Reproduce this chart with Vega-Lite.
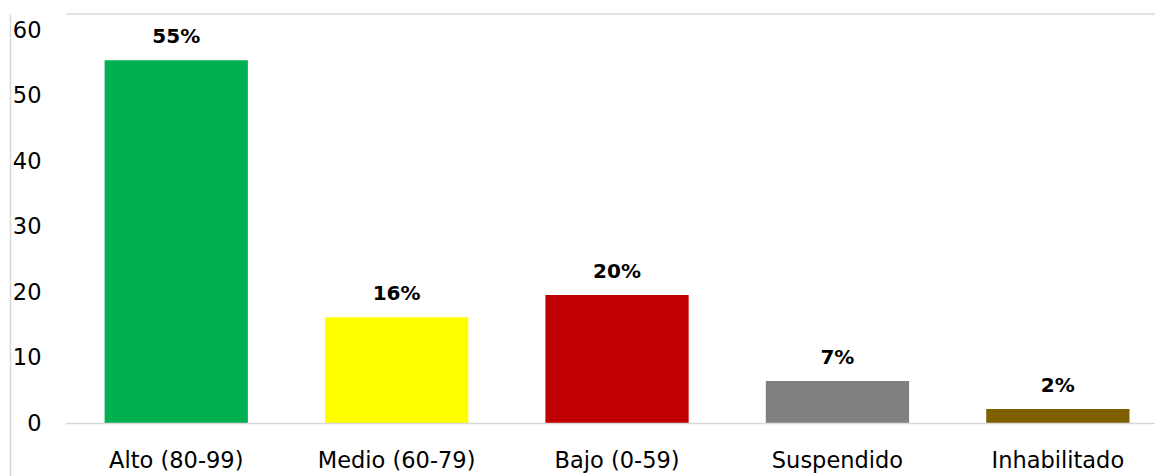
{
  "$schema": "https://vega.github.io/schema/vega-lite/v6.json",
  "autosize": "none",
  "width": 1089,
  "height": 462,
  "padding": {"left": 66, "top": 14, "right": 0, "bottom": 0},
  "background": "white",
  "config": {
    "view": {"stroke": null},
    "font": "DejaVu Sans",
    "axis": {"labelFont": "DejaVu Sans", "labelFontSize": 22.5, "labelColor": "#000000", "grid": false, "ticks": false, "title": null}
  },
  "data": {
    "values": [
      {"categoria": "Alto (80-99)", "valor": 55.4, "etiqueta": "55%", "color": "#00B050"},
      {"categoria": "Medio (60-79)", "valor": 16.2, "etiqueta": "16%", "color": "#FFFF00"},
      {"categoria": "Bajo (0-59)", "valor": 19.6, "etiqueta": "20%", "color": "#C00000"},
      {"categoria": "Suspendido", "valor": 6.5, "etiqueta": "7%", "color": "#808080"},
      {"categoria": "Inhabilitado", "valor": 2.2, "etiqueta": "2%", "color": "#7F6000"}
    ]
  },
  "encoding": {
    "x": {
      "field": "categoria",
      "type": "nominal",
      "sort": null,
      "scale": {"paddingInner": 0.35, "paddingOuter": 0.1455, "align": 0.602},
      "axis": {"orient": "bottom", "domain": false, "labelAngle": 0, "labelPadding": -27}
    },
    "y": {
      "field": "valor",
      "type": "quantitative",
      "scale": {"domain": [-8.0, 62.44], "nice": false, "zero": false},
      "axis": {"values": [0, 10, 20, 30, 40, 50, 60], "offset": 56, "domain": true, "domainColor": "#d9d9d9", "domainWidth": 1.5, "labelPadding": -31, "labelAlign": "right"}
    }
  },
  "layer": [
    {
      "mark": {"type": "bar"},
      "encoding": {
        "y2": {"datum": 0},
        "color": {"field": "color", "type": "nominal", "scale": null}
      }
    },
    {
      "mark": {"type": "text", "baseline": "alphabetic", "dy": -17, "fontWeight": "bold", "fontSize": 20, "color": "#000000"},
      "encoding": {"text": {"field": "etiqueta"}}
    },
    {
      "data": {"values": [{"v": 0}]},
      "mark": {"type": "rule", "color": "#d9d9d9", "strokeWidth": 1.5},
      "encoding": {"y": {"field": "v", "type": "quantitative"}, "x": null}
    },
    {
      "data": {"values": [{"v": 62.44}]},
      "mark": {"type": "rule", "color": "#d9d9d9", "strokeWidth": 1.5},
      "encoding": {"y": {"field": "v", "type": "quantitative"}, "x": null}
    }
  ]
}
